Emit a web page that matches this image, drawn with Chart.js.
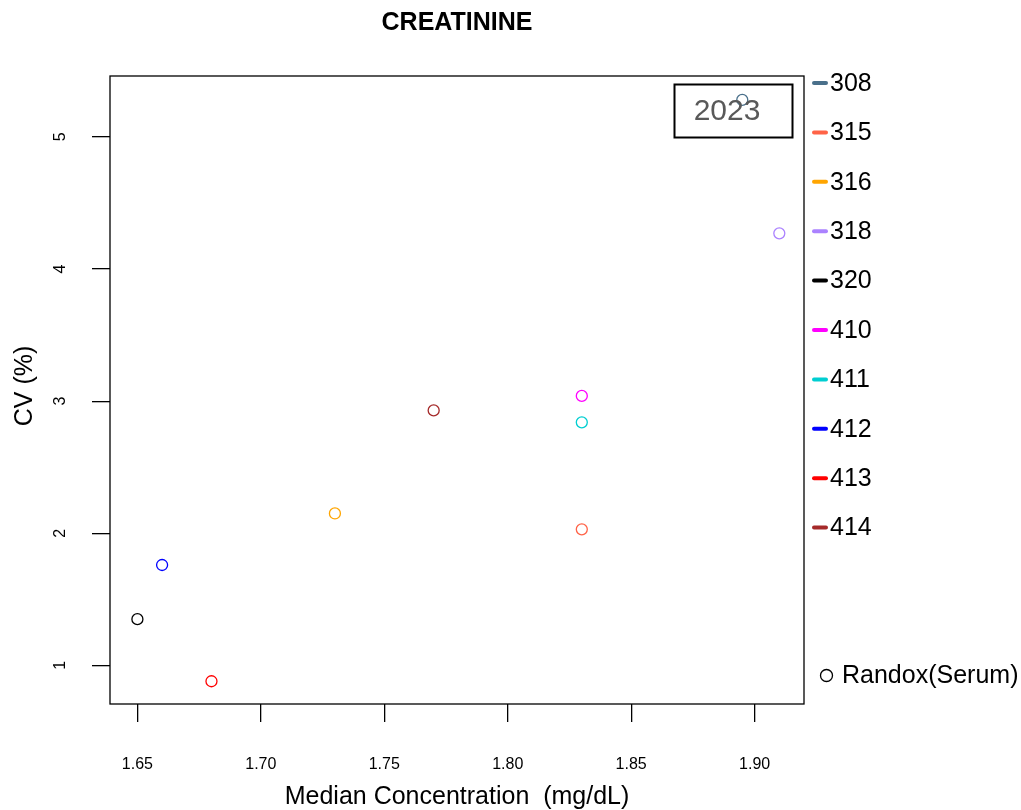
<!DOCTYPE html>
<html>
<head>
<meta charset="utf-8">
<script src="https://cdn.jsdelivr.net/npm/chart.js@4"></script>
<style>
  html, body { margin: 0; padding: 0; background: #fff; }
  #wrap { width: 1021px; height: 810px; }
</style>
</head>
<body>
<div id="wrap"><canvas id="c" width="1021" height="810"></canvas></div>
<script>
// lab codes, median concentration (mg/dL), CV (%)
const labs = ['308', '315', '316', '318', '320', '410', '411', '412', '413', '414'];
const medians = [1.895, 1.83, 1.73, 1.91, 1.65, 1.83, 1.83, 1.66, 1.68, 1.77];
const cvs = [5.28, 2.03, 2.15, 4.27, 1.35, 3.04, 2.84, 1.76, 0.88, 2.93];
const labColors = ['#4A708B', '#FF6347', '#FFA500', '#AB82FF', '#000000',
                   '#FF00FF', '#00CED1', '#0000FF', '#FF0000', '#A52A2A'];
const xTicks = [1.65, 1.70, 1.75, 1.80, 1.85, 1.90];
const yTicks = [1, 2, 3, 4, 5];

const FONT = '"Liberation Sans", Arial, sans-serif';

const datasets = labs.map((lab, i) => ({
    label: lab,
    data: [{ x: medians[i], y: cvs[i] }],
    borderColor: labColors[i],
    backgroundColor: 'rgba(0,0,0,0)',
    pointRadius: 5.5,
    pointBorderWidth: 1.3,
    pointStyle: 'circle'
}));

// box, tick labels, titles, legend, year box
const decorations = {
    id: 'decorations',
    afterDraw(chart) {
        const ctx = chart.ctx;
        const a = chart.chartArea;
        const xs = chart.scales.x;
        const ys = chart.scales.y;
        ctx.save();

        // plot box
        ctx.strokeStyle = '#000';
        ctx.lineWidth = 1.3;
        ctx.strokeRect(a.left, a.top, a.right - a.left, a.bottom - a.top);

        // x tick labels
        ctx.fillStyle = '#000';
        ctx.font = '16px ' + FONT;
        ctx.textAlign = 'center';
        ctx.textBaseline = 'middle';
        xTicks.forEach(v => ctx.fillText(v.toFixed(2), xs.getPixelForValue(v), 765));

        // y tick labels (rotated)
        yTicks.forEach(v => {
            ctx.save();
            ctx.translate(61, ys.getPixelForValue(v));
            ctx.rotate(-Math.PI / 2);
            ctx.fillText(String(v), 0, 0);
            ctx.restore();
        });

        // titles
        ctx.font = 'bold 25px ' + FONT;
        ctx.fillText('CREATININE', (a.left + a.right) / 2, 23);
        ctx.font = '25px ' + FONT;
        ctx.fillText('Median Concentration  (mg/dL)', (a.left + a.right) / 2, 797);
        ctx.save();
        ctx.translate(25, 386);
        ctx.rotate(-Math.PI / 2);
        ctx.fillText('CV (%)', 0, 0);
        ctx.restore();

        // year box
        ctx.lineWidth = 2;
        ctx.strokeRect(674.5, 84.5, 118, 53);
        ctx.fillStyle = '#595959';
        ctx.font = '30px ' + FONT;
        ctx.fillText('2023', 727, 112);

        // legend
        ctx.textAlign = 'left';
        ctx.font = '25px ' + FONT;
        ctx.lineCap = 'round';
        chart.data.datasets.forEach((ds, i) => {
            const y = 83 + i * 49.4;
            ctx.strokeStyle = ds.borderColor;
            ctx.lineWidth = 4;
            ctx.beginPath();
            ctx.moveTo(814, y);
            ctx.lineTo(826, y);
            ctx.stroke();
            ctx.fillStyle = '#000';
            ctx.fillText(ds.label, 830, y + 1);
        });
        ctx.strokeStyle = '#000';
        ctx.lineWidth = 1.3;
        ctx.beginPath();
        ctx.arc(826.5, 675.5, 6, 0, Math.PI * 2);
        ctx.stroke();
        ctx.fillText('Randox(Serum)', 842, 676);

        ctx.restore();
    }
};

new Chart(document.getElementById('c'), {
    type: 'scatter',
    data: { datasets: datasets },
    options: {
        responsive: false,
        animation: false,
        layout: { padding: { left: 0, top: 76, right: 217, bottom: 0 } },
        plugins: {
            legend: { display: false },
            title: { display: false },
            tooltip: { enabled: false }
        },
        scales: {
            x: {
                type: 'linear',
                min: 1.6389,
                max: 1.92,
                afterBuildTicks: s => { s.ticks = xTicks.map(v => ({ value: v })); },
                afterFit: s => { s.height = 106; },
                ticks: { display: false },
                grid: { drawOnChartArea: false, drawTicks: true, tickLength: 18, color: '#000', lineWidth: 1.3 },
                border: { display: false }
            },
            y: {
                type: 'linear',
                min: 0.708,
                max: 5.461,
                afterBuildTicks: s => { s.ticks = yTicks.map(v => ({ value: v })); },
                afterFit: s => { s.width = 110; },
                ticks: { display: false },
                grid: { drawOnChartArea: false, drawTicks: true, tickLength: 18, color: '#000', lineWidth: 1.3 },
                border: { display: false }
            }
        }
    },
    plugins: [decorations]
});
</script>
</body>
</html>
